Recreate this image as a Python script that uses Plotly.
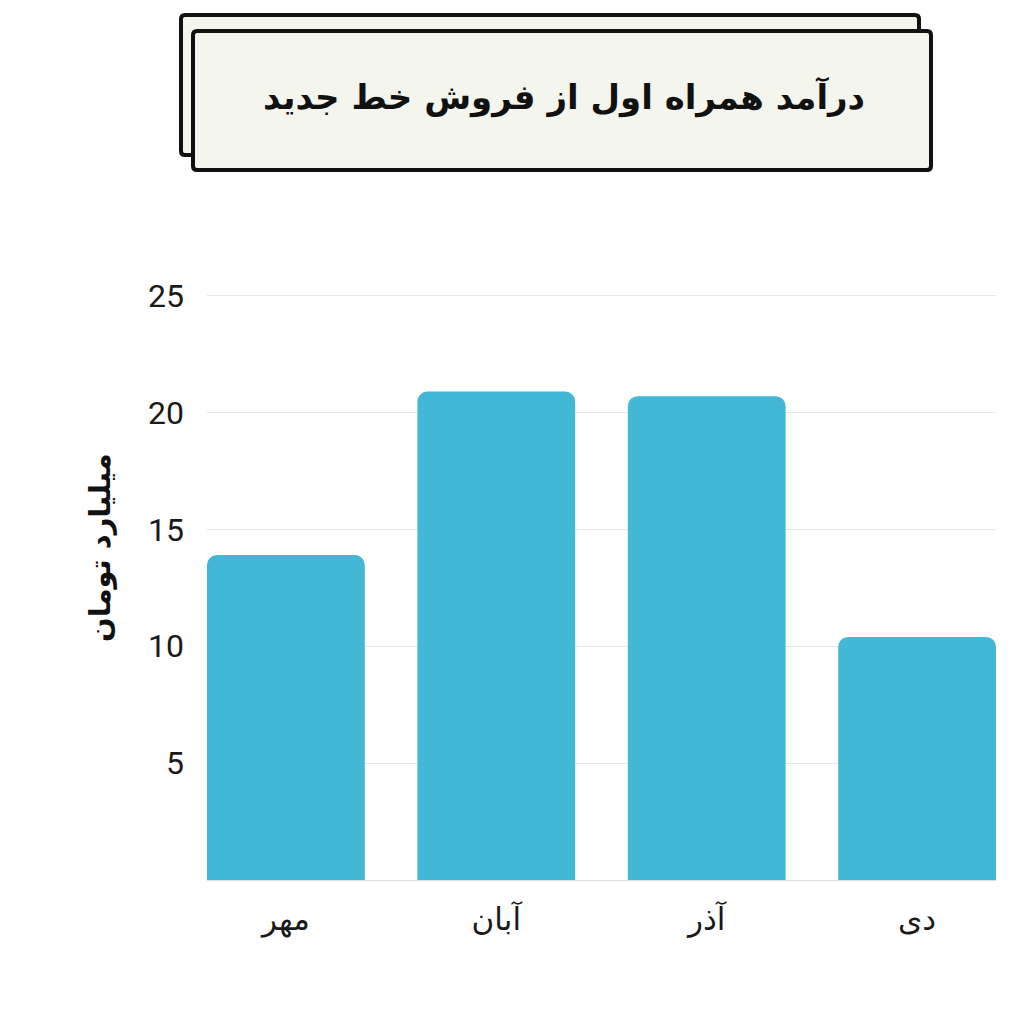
import plotly.graph_objects as go

months = ["مهر", "آبان", "آذر", "دی"]
revenue = [13.9, 20.9, 20.7, 10.4]
y_ticks = [5, 10, 15, 20, 25]

title_text = "درآمد همراه اول از فروش خط جدید"
y_title = "میلیارد تومان"

# page has an 8px body margin, so layout pixels are shifted by that
OFF = 8
W, H = 1024, 1024
L, R, T, B = 199, 36, 283, 152
pw, ph = W - L - R, H - T - B


def px_x(v):
    return (v - OFF - L) / pw


def px_y(v):
    return (H - B - (v - OFF)) / ph


def card(x0, y0, x1, y1, r=4):
    # rounded rectangle path in paper coords, from page pixels
    pts = [
        (x0 + r, y0), (x1 - r, y0), (x1, y0, x1, y0 + r),
        (x1, y1 - r), (x1, y1, x1 - r, y1), (x0 + r, y1),
        (x0, y1, x0, y1 - r), (x0, y0 + r), (x0, y0, x0 + r, y0),
    ]
    d = f"M{px_x(pts[0][0])},{px_y(pts[0][1])}"
    for p in pts[1:]:
        if len(p) == 2:
            d += f" L{px_x(p[0])},{px_y(p[1])}"
        else:
            d += f" Q{px_x(p[0])},{px_y(p[1])} {px_x(p[2])},{px_y(p[3])}"
    return d + " Z"


fig = go.Figure(
    go.Bar(
        x=months,
        y=revenue,
        marker=dict(color="#43b7d6", cornerradius=10, line=dict(width=0)),
        hoverinfo="x+y",
    )
)

fig.update_layout(
    width=W,
    height=H,
    margin=dict(l=L, r=R, t=T, b=B),
    paper_bgcolor="white",
    plot_bgcolor="white",
    bargap=0.25,
    showlegend=False,
    font=dict(family="Roboto, DejaVu Sans", size=22, color="#1a1a1a"),
)

fig.update_xaxes(
    range=[-0.375, 3.375],
    showgrid=False,
    showline=True,
    linecolor="#dddddd",
    linewidth=1,
    ticks="",
    ticklabelstandoff=12,
    tickfont=dict(family="DejaVu Sans, Roboto", size=31, color="#1a1a1a"),
)

fig.update_yaxes(
    range=[0, 25.2],
    tickvals=y_ticks,
    showgrid=True,
    gridcolor="#e6e6e6",
    gridwidth=1,
    zeroline=False,
    ticks="",
    ticklabelstandoff=22,
    tickfont=dict(size=32, color="#1a1a1a"),
)

fig.add_annotation(
    xref="paper", yref="paper",
    x=px_x(100), y=px_y(547),
    xanchor="center", yanchor="middle",
    text=y_title, textangle=-90,
    showarrow=False,
    font=dict(family="DejaVu Sans", size=29, color="#111", weight="bold"),
)

# title card with offset shadow card behind it
fig.add_shape(
    type="path", xref="paper", yref="paper",
    path=card(181, 15, 919, 155),
    fillcolor="#f4f5ec", line=dict(color="#111", width=4), layer="above",
)
fig.add_shape(
    type="path", xref="paper", yref="paper",
    path=card(193, 31, 931, 170),
    fillcolor="#f4f5ec", line=dict(color="#111", width=4), layer="above",
)
fig.add_annotation(
    xref="paper", yref="paper",
    x=px_x(564), y=px_y(97),
    xanchor="center", yanchor="middle",
    text=title_text,
    showarrow=False,
    font=dict(family="DejaVu Sans", size=34, color="#111", weight="bold"),
)

fig.write_html("out.html")
